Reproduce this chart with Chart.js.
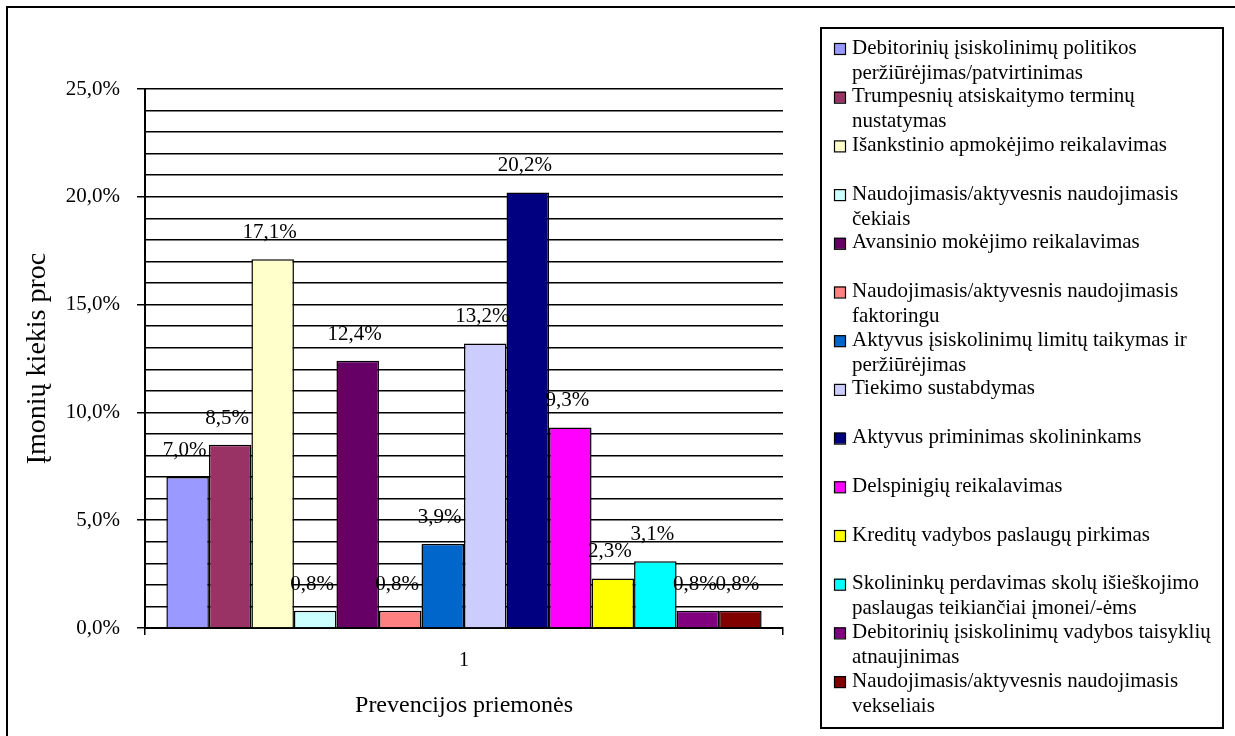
<!DOCTYPE html>
<html>
<head>
<meta charset="utf-8">
<script src="https://cdn.jsdelivr.net/npm/chart.js@4.4.1/dist/chart.umd.min.js"></script>
<style>
  html, body { margin: 0; padding: 0; background: #fff; }
  #wrap { width: 1235px; height: 736px; }
</style>
</head>
<body>
<div id="wrap"><canvas id="chart" width="1235" height="736"></canvas></div>
<script>
// data
const categories = ["1"];

const seriesNames = [
    ["Debitorinių įsiskolinimų politikos", "peržiūrėjimas/patvirtinimas"],
    ["Trumpesnių atsiskaitymo terminų", "nustatymas"],
    ["Išankstinio apmokėjimo reikalavimas"],
    ["Naudojimasis/aktyvesnis naudojimasis", "čekiais"],
    ["Avansinio mokėjimo reikalavimas"],
    ["Naudojimasis/aktyvesnis naudojimasis", "faktoringu"],
    ["Aktyvus įsiskolinimų limitų taikymas ir", "peržiūrėjimas"],
    ["Tiekimo sustabdymas"],
    ["Aktyvus priminimas skolininkams"],
    ["Delspinigių reikalavimas"],
    ["Kreditų vadybos paslaugų pirkimas"],
    ["Skolininkų perdavimas skolų išieškojimo", "paslaugas teikiančiai įmonei/-ėms"],
    ["Debitorinių įsiskolinimų vadybos taisyklių", "atnaujinimas"],
    ["Naudojimasis/aktyvesnis naudojimasis", "vekseliais"]
];

const seriesValues = [7.0, 8.5, 17.1, 0.8, 12.4, 0.8, 3.9, 13.2, 20.2, 9.3, 2.3, 3.1, 0.8, 0.8];

const seriesColors = [
    "#9999FF", "#993366", "#FFFFCC", "#CCFFFF", "#660066", "#FF8080", "#0066CC",
    "#CCCCFF", "#000080", "#FF00FF", "#FFFF00", "#00FFFF", "#800080", "#800000"
];

const yAxisTitle = "Įmonių kiekis proc";
const xAxisTitle = "Prevencijos priemonės";

const SERIF = '"Liberation Serif", "Times New Roman", serif';

function fmtPct(v) {
    return v.toFixed(1).replace(".", ",") + "%";
}

// white page + outer frame (only top/left visible in the crop)
const frame = {
    id: "frame",
    beforeDraw(chart) {
        const ctx = chart.ctx;
        ctx.save();
        ctx.fillStyle = "#fff";
        ctx.fillRect(0, 0, chart.width, chart.height);
        ctx.strokeStyle = "#000";
        ctx.lineWidth = 2;
        ctx.strokeRect(7, 7, chart.width + 20, chart.height + 20);
        ctx.restore();
    }
};

// value labels above the bars
const valueLabels = {
    id: "valueLabels",
    afterDatasetsDraw(chart) {
        const ctx = chart.ctx;
        ctx.save();
        ctx.font = "21px " + SERIF;
        ctx.fillStyle = "#000";
        ctx.textAlign = "center";
        ctx.textBaseline = "alphabetic";
        chart.data.datasets.forEach((ds, i) => {
            const bar = chart.getDatasetMeta(i).data[0];
            if (!bar) return;
            ctx.fillText(fmtPct(ds.data[0]), bar.x - 3, bar.y - 21);
        });
        ctx.restore();
    }
};

// boxed legend on the right with wrapped names
const boxLegend = {
    id: "boxLegend",
    afterDraw(chart) {
        const ctx = chart.ctx;
        ctx.save();
        ctx.strokeStyle = "#000";
        ctx.lineWidth = 2;
        ctx.strokeRect(821, 28, 402, 700);
        ctx.font = "21px " + SERIF;
        ctx.textAlign = "left";
        ctx.textBaseline = "middle";
        chart.data.datasets.forEach((ds, i) => {
            const y = 48 + i * 48.7;
            ctx.fillStyle = ds.backgroundColor;
            ctx.fillRect(834, y - 5, 11, 11);
            ctx.lineWidth = 1.2;
            ctx.strokeRect(834.5, y - 4.5, 11, 11);
            ctx.fillStyle = "#000";
            seriesNames[i].forEach((line, j) => {
                ctx.fillText(line, 852, y + j * 25);
            });
        });
        ctx.restore();
    }
};

const datasets = seriesValues.map((v, i) => ({
    label: seriesNames[i].join(" "),
    data: [v],
    backgroundColor: seriesColors[i],
    borderColor: "#000",
    borderWidth: 1.5,
    barPercentage: 1,
    categoryPercentage: 0.933
}));

new Chart(document.getElementById("chart"), {
    type: "bar",
    data: { labels: categories, datasets },
    options: {
        responsive: false,
        animation: false,
        devicePixelRatio: 1,
        layout: { padding: { left: 0, top: 89, right: 452, bottom: 0 } },
        plugins: {
            legend: { display: false },
            tooltip: { enabled: false }
        },
        scales: {
            x: {
                afterFit: scale => { scale.height = 108; },
                grid: {
                    display: true,
                    offset: true,
                    drawOnChartArea: false,
                    drawTicks: true,
                    tickLength: 7,
                    lineWidth: 1.5,
                    color: "#000"
                },
                border: { display: true, color: "#000", width: 2 },
                ticks: { color: "#000", padding: 14, font: { family: SERIF, size: 20 } },
                title: {
                    display: true,
                    text: xAxisTitle,
                    color: "#000",
                    font: { family: SERIF, size: 24 },
                    padding: { top: 0, bottom: 16 }
                }
            },
            y: {
                min: 0,
                max: 25,
                afterFit: scale => { scale.width = 145; },
                grid: {
                    color: "#000",
                    lineWidth: 1.5,
                    drawTicks: true,
                    tickLength: 8,
                    tickColor: ctx => (ctx.tick && ctx.tick.value % 5 === 0) ? "#000" : "rgba(0,0,0,0)"
                },
                border: { display: true, color: "#000", width: 2 },
                ticks: {
                    stepSize: 1,
                    autoSkip: false,
                    color: "#000",
                    padding: 17,
                    font: { family: SERIF, size: 21 },
                    callback: v => (v % 5 === 0 ? fmtPct(v) : "")
                },
                title: {
                    display: true,
                    text: yAxisTitle,
                    color: "#000",
                    font: { family: SERIF, size: 28 },
                    padding: { top: 21, bottom: 0 }
                }
            }
        }
    },
    plugins: [frame, valueLabels, boxLegend]
});
</script>
</body>
</html>
